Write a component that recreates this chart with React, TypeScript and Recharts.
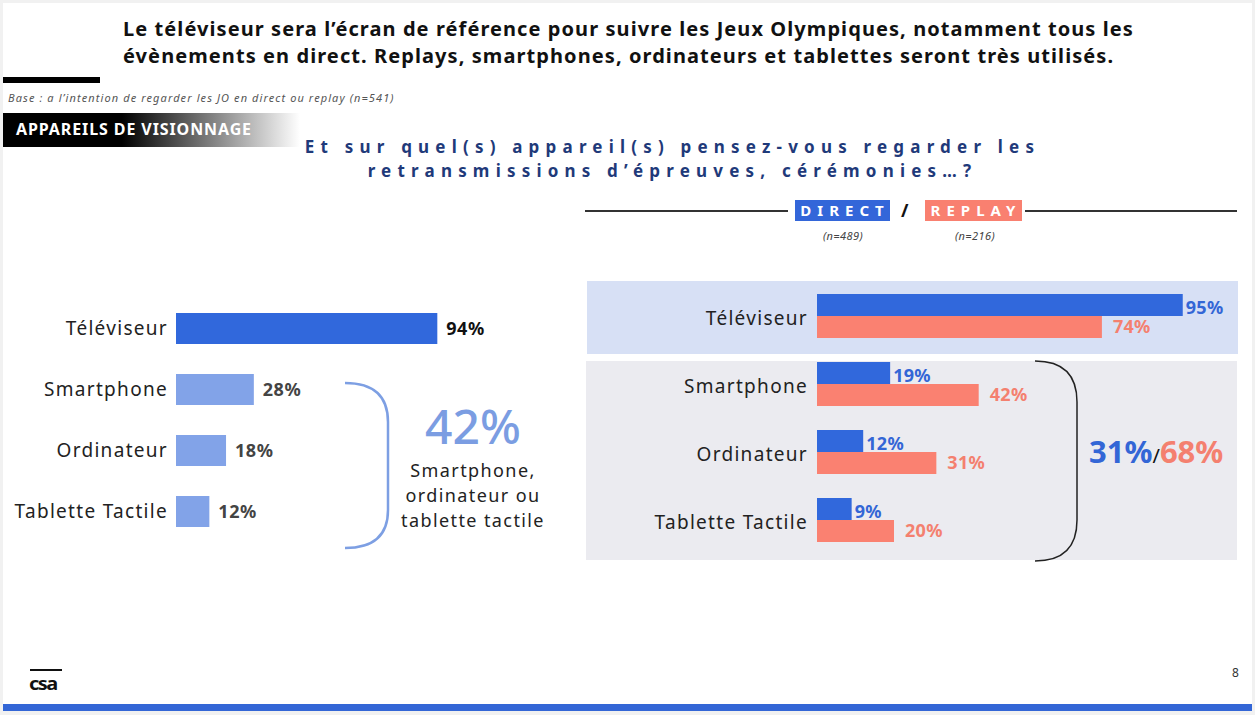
import React from 'react';
import { BarChart, Bar, XAxis, YAxis, Cell, LabelList } from 'recharts';

const categories = ['Téléviseur', 'Smartphone', 'Ordinateur', 'Tablette Tactile'];
const totalValues = [94, 28, 18, 12];
const directValues = [95, 19, 12, 9];
const replayValues = [74, 42, 31, 20];
const groupedLabel = '42%';
const directGrouped = '31%';
const replayGrouped = '68%';

const FONT = '"Noto Sans", "DejaVu Sans", sans-serif';
const BLUE = '#3168dc';
const LIGHT_BLUE = '#82a3e8';
const SALMON = '#fa8171';
const SALMON_TEXT = '#f4806f';
const NAVY = '#1f3a7a';

const leftData = categories.map((c, i) => ({ name: c, value: totalValues[i] }));
const rightData = categories.map((c, i) => ({ name: c, direct: directValues[i], replay: replayValues[i] }));

const makeCatTick = (shift: number) => (props: any) => {
  const { x, y, payload } = props;
  return (
    <text
      x={x}
      y={y + shift}
      textAnchor="end"
      dominantBaseline="middle"
      fontFamily={FONT}
      fontSize={19}
      fill="#222"
      letterSpacing={1.3}
    >
      {payload.value}
    </text>
  );
};

const leftLabel = (props: any) => {
  const { x, y, width, height, value, index } = props;
  const first = index === 0;
  return (
    <text
      x={x + width + 9}
      y={y + height / 2 + 2}
      dominantBaseline="middle"
      fontFamily={FONT}
      fontWeight={700}
      fontSize={18}
      letterSpacing={0.5}
      fill={first ? '#111' : '#444'}
    >
      {value}%
    </text>
  );
};

const makeRightLabel = (color: string, offset: number, shift: number) => (props: any) => {
  const { x, y, width, height, value } = props;
  return (
    <text
      x={x + width + offset}
      y={y + height / 2 + shift}
      dominantBaseline="middle"
      fontFamily={FONT}
      fontWeight={700}
      fontSize={18}
      letterSpacing={0.3}
      fill={color}
    >
      {value}%
    </text>
  );
};

const abs = (l: number, t: number, extra: React.CSSProperties = {}): React.CSSProperties => ({
  position: 'absolute',
  left: l,
  top: t,
  ...extra,
});

export default function App() {
  return (
    <div style={{ position: 'absolute', left: 0, top: 0, width: 1255, height: 715, background: '#f1f1f1', overflow: 'hidden', fontFamily: FONT }}>
      <div style={abs(3, 3, { width: 1249, height: 701, background: '#fff' })} />
      {/* Title */}
      <div style={abs(123, 15, { fontSize: 20, fontWeight: 700, color: '#111', lineHeight: '27px', width: 1120, whiteSpace: 'nowrap', letterSpacing: 1.08 })}>
        Le téléviseur sera l’écran de référence pour suivre les Jeux Olympiques, notamment tous les
        <br />
        évènements en direct. Replays, smartphones, ordinateurs et tablettes seront très utilisés.
      </div>
      <div style={abs(3, 77, { width: 97, height: 6, background: '#000' })} />
      <div style={abs(8, 90, { fontSize: 11, fontStyle: 'italic', color: '#555', letterSpacing: 1.1, whiteSpace: 'nowrap' })}>
        Base : a l’intention de regarder les JO en direct ou replay (n=541)
      </div>
      <div
        style={abs(3, 113, {
          width: 297,
          height: 34,
          background: 'linear-gradient(to right, #000 0%, #000 40%, #fff 100%)',
        })}
      />
      <div style={abs(16, 118, { fontSize: 16, fontWeight: 700, color: '#fff', whiteSpace: 'nowrap', letterSpacing: 0.9 })}>APPAREILS DE VISIONNAGE</div>
      {/* Question */}
      <div
        style={abs(210, 135, {
          width: 925,
          textAlign: 'center',
          fontSize: 17,
          fontWeight: 700,
          color: NAVY,
          letterSpacing: 6.2,
          lineHeight: '24px',
          whiteSpace: 'nowrap',
        })}
      >
        Et sur quel(s) appareil(s) pensez-vous regarder les
        <br />
        retransmissions d’épreuves, cérémonies…?
      </div>
      {/* Direct / Replay header */}
      <div style={abs(585, 210, { width: 203, height: 2, background: '#333' })} />
      <div style={abs(1025, 210, { width: 212, height: 2, background: '#333' })} />
      <div
        style={abs(795, 200, {
          width: 95,
          height: 21,
          background: '#3366d9',
          color: '#fff',
          fontWeight: 700,
          fontSize: 15,
          letterSpacing: 6,
          lineHeight: '21px',
          textAlign: 'center',
          paddingLeft: 5,
          boxSizing: 'border-box',
          whiteSpace: 'nowrap',
        })}
      >
        DIRECT
      </div>
      <div style={abs(901, 198, { fontSize: 18, fontWeight: 700, color: '#111' })}>/</div>
      <div
        style={abs(925, 200, {
          width: 97,
          height: 21,
          background: '#f98070',
          color: '#fff',
          fontWeight: 700,
          fontSize: 15,
          letterSpacing: 6,
          lineHeight: '21px',
          textAlign: 'center',
          paddingLeft: 5,
          boxSizing: 'border-box',
          whiteSpace: 'nowrap',
        })}
      >
        REPLAY
      </div>
      <div style={abs(808, 228, { width: 70, textAlign: 'center', fontSize: 11, fontStyle: 'italic', color: '#444', letterSpacing: 0.4 })}>(n=489)</div>
      <div style={abs(940, 228, { width: 70, textAlign: 'center', fontSize: 11, fontStyle: 'italic', color: '#444', letterSpacing: 0.4 })}>(n=216)</div>

      {/* Right panels */}
      <div style={abs(587, 281, { width: 651, height: 73, background: '#d7e0f5' })} />
      <div style={abs(586, 361, { width: 651, height: 199, background: '#ebebf0' })} />

      {/* Left chart */}
      <div style={abs(0, 298)}>
        <BarChart width={520} height={244} data={leftData} layout="vertical" margin={{ top: 0, right: 66, bottom: 0, left: 0 }}>
          <XAxis type="number" domain={[0, 100]} hide />
          <YAxis
            type="category"
            dataKey="name"
            width={176}
            axisLine={false}
            tickLine={false}
            tickSize={0}
            tickMargin={8}
            tick={makeCatTick(1)}
          />
          <Bar dataKey="value" barSize={31} isAnimationActive={false}>
            {leftData.map((d, i) => (
              <Cell key={d.name} fill={i === 0 ? BLUE : LIGHT_BLUE} />
            ))}
            <LabelList dataKey="value" content={leftLabel} />
          </Bar>
        </BarChart>
      </div>

      {/* Brackets */}
      <svg style={abs(0, 0)} width={1255} height={715} pointerEvents="none">
        <path d="M345,383 Q388,383 388,422 L388,510 Q388,548 345,548" fill="none" stroke="#7d9fe3" strokeWidth={2.5} />
        <path d="M1035,361 Q1077,361 1077,402 L1077,520 Q1077,561 1035,561" fill="none" stroke="#222" strokeWidth={1.5} />
      </svg>
      <div style={abs(393, 399, { width: 160, textAlign: 'center', fontSize: 48, fontWeight: 500, color: '#7b9de2', lineHeight: '54px' })}>
        {groupedLabel}
      </div>
      <div style={abs(373, 458, { width: 200, textAlign: 'center', fontSize: 18, color: '#222', lineHeight: '25px', letterSpacing: 1.4, whiteSpace: 'nowrap' })}>
        Smartphone,
        <br />
        ordinateur ou
        <br />
        tablette tactile
      </div>

      {/* Right chart */}
      <div style={abs(580, 282)}>
        <BarChart width={667} height={272} data={rightData} layout="vertical" barGap={0} margin={{ top: 0, right: 45, bottom: 0, left: 0 }}>
          <XAxis type="number" domain={[0, 100]} hide />
          <YAxis
            type="category"
            dataKey="name"
            width={237}
            axisLine={false}
            tickLine={false}
            tickSize={0}
            tickMargin={9}
            tick={makeCatTick(4)}
          />
          <Bar dataKey="direct" fill={BLUE} barSize={22} isAnimationActive={false}>
            <LabelList dataKey="direct" content={makeRightLabel('#3366d6', 3, 4)} />
          </Bar>
          <Bar dataKey="replay" fill={SALMON} barSize={22} isAnimationActive={false}>
            <LabelList dataKey="replay" content={makeRightLabel(SALMON_TEXT, 11, 1)} />
          </Bar>
        </BarChart>
      </div>
      <div style={abs(1089, 431, { whiteSpace: 'nowrap', lineHeight: '40px' })}>
        <span style={{ fontSize: 31, fontWeight: 700, color: '#3366d6' }}>{directGrouped}</span>
        <span style={{ fontSize: 20, color: '#111' }}>/</span>
        <span style={{ fontSize: 31, fontWeight: 700, color: SALMON_TEXT }}>{replayGrouped}</span>
      </div>

      {/* Footer */}
      <div style={abs(30, 669, { width: 32, height: 2, background: '#111' })} />
      <div style={abs(29, 670, { fontSize: 20, fontWeight: 700, color: '#111', letterSpacing: -1.5, transform: 'scaleY(0.9)' })}>csa</div>
      <div style={abs(1232, 664, { fontSize: 12, color: '#333' })}>8</div>
      <div style={abs(3, 704, { width: 1249, height: 7, background: '#3366d6' })} />
    </div>
  );
}
